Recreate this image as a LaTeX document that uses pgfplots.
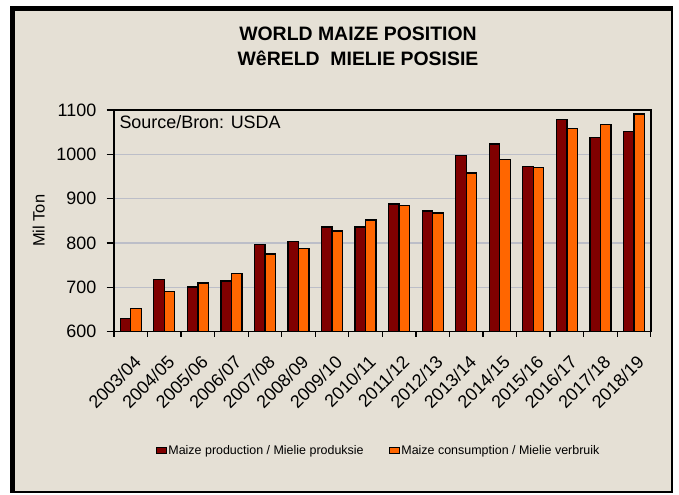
\documentclass[border=0pt]{standalone}
\usepackage{pgfplots}
\pgfplotsset{compat=1.18}
\usepackage{fontspec}
\setmainfont{Liberation Sans}
\definecolor{bgbeige}{RGB}{229,224,213}
\definecolor{prodred}{RGB}{128,0,0}
\definecolor{consorange}{RGB}{255,102,0}
\definecolor{gridc}{RGB}{188,190,200}
\begin{document}
\begin{tikzpicture}[x=1bp,y=1bp]
\useasboundingbox (0,0) rectangle (679,495);
\fill[white] (0,0) rectangle (679,495);
\fill[black] (10,2) rectangle (673,489);
\fill[bgbeige] (15,4) rectangle (670.5,484);
\node[anchor=base, inner sep=0pt, font=\fontsize{19.5}{22}\selectfont\bfseries] at (358,454.3) {WORLD MAIZE POSITION};
\node[anchor=base, inner sep=0pt, font=\fontsize{19.5}{22}\selectfont\bfseries] at (358,429) {WêRELD\ \ MIELIE POSISIE};
\begin{axis}[
  at={(114bp,163.3bp)}, anchor=south west,
  scale only axis, width=536.7bp, height=221.7bp,
  ybar=0pt, bar width=10.5bp,
  xmin=-0.5, xmax=15.5, ymin=600, ymax=1100,
  ytick={600,700,...,1100},
  xtick={0,...,15},
  xticklabels={2003/04,2004/05,2005/06,2006/07,2007/08,2008/09,2009/10,2010/11,2011/12,2012/13,2013/14,2014/15,2015/16,2016/17,2017/18,2018/19},
  minor xtick={-0.5,0.5,...,15.5},
  major x tick style={draw=none},
  minor x tick style={black, line width=1.3bp},
  ytick style={black, line width=1.3bp},
  tick align=outside, major tick length=7.5bp, minor tick length=5bp,
  tick pos=left,
  ymajorgrids, grid style={gridc, line width=1.2bp},
  axis line style={black, line width=1.6bp},
  tick label style={font=\fontsize{18}{20}\selectfont},
  /pgf/number format/assume math mode=true,
  /pgf/number format/1000 sep={},
  yticklabel style={inner sep=0pt, xshift=-10bp},
  xticklabel style={rotate=45, anchor=north east, inner sep=0pt, xshift=-9bp, yshift=-12bp},
  ylabel={Mil Ton},
  every axis y label/.style={at={(rel axis cs:0,0.5)}, xshift=-75.3bp, rotate=90, anchor=center, font=\fontsize{16.5}{18}\selectfont},
  legend columns=2,
  legend style={at={(rel axis cs:0.4928,-0.535)}, anchor=center, draw=none, fill=none,
    font=\fontsize{12.5}{14}\selectfont, inner sep=0pt,
    /tikz/every even column/.style={column sep=24bp},
    nodes={inner sep=1.5bp}},
  legend image code/.code={\draw[#1, line width=0.8bp] (0bp,-3.3bp) rectangle (10bp,3.3bp);},
]
\addplot[fill=prodred, draw=black, line width=1.3bp] coordinates {
(0,629) (1,717) (2,701) (3,714) (4,796) (5,803) (6,836) (7,836)
(8,888) (9,872) (10,998) (11,1023) (12,973) (13,1079) (14,1038) (15,1051)};
\addlegendentry{Maize production / Mielie produksie}
\addplot[fill=consorange, draw=black, line width=1.3bp] coordinates {
(0,653) (1,690) (2,710) (3,731) (4,775) (5,787) (6,827) (7,852)
(8,884) (9,868) (10,958) (11,989) (12,970) (13,1058) (14,1067) (15,1091)};
\addlegendentry{Maize consumption / Mielie verbruik}
\node[anchor=base west, inner sep=0pt, font=\fontsize{18}{20}\selectfont] at (rel axis cs:0,1) [xshift=5.3bp, yshift=-18.3bp] {Source/Bron: USDA};
\end{axis}
\end{tikzpicture}
\end{document}
